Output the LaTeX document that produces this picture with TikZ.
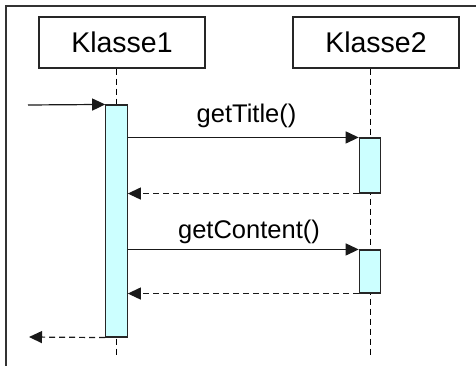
\documentclass[tikz,border=0pt]{standalone}
\usepackage{fontspec}
\setmainfont{Liberation Sans}
\usetikzlibrary{arrows.meta}
\definecolor{actfill}{HTML}{CCFFFF}

\begin{document}
\begin{tikzpicture}[
  x=1pt, y=-1pt,
  cls/.style={draw=black!85, line width=1.1pt, minimum width=166pt, minimum height=51pt,
    inner sep=0pt, font=\fontsize{28.5}{30}\selectfont},
  act/.style={draw=black!85, line width=1.1pt, fill=actfill, minimum width=21.5pt, inner sep=0pt},
  life/.style={line width=1pt, black, dash pattern=on 6pt off 4pt},
  call/.style={-{Triangle[length=13pt,width=12pt]}, line width=1.2pt, black!90},
  ret/.style={call, dash pattern=on 6pt off 4pt},
  lbl/.style={anchor=base, inner sep=0pt, font=\fontsize{25.5}{27}\selectfont}]

\useasboundingbox (0,0) rectangle (476,366);

% ---- frame, cut by the page on the right and below -------------------
\draw[line width=1.5pt, black!80] (6,366) |- (476,6);

% ---- the two objects and their lifelines -------------------------------
\node[cls] (k1) at (122,42.5) {Klasse1};
\node[cls] (k2) at (376,42.5) {Klasse2};
\coordinate (end1) at (116.5,356);
\coordinate (end2) at (370,356);
\draw[life] (end1 |- k1.south) -- (end1);
\draw[life] (end2 |- k2.south) -- (end2);

% ---- activation bars ----------------------------------------------------
\node[act, minimum height=232pt] (act1) at (116.5,221) {};
\node[act, minimum height=55pt]  (act2) at (370,165.5) {};
\node[act, minimum height=43pt]  (act3) at (370,271.5) {};

% ---- messages -----------------------------------------------------------
\coordinate (src) at (28,105);
\coordinate (snk) at (29,337);
\draw[call] (src) -- (act1.north west);
\draw[call] (act1.east |- act2.north) -- (act2.north west);
\draw[ret]  (act2.south west) -- (act1.east |- act2.south);
\draw[call] (act1.east |- act3.north) -- (act3.north west);
\draw[ret]  (act3.south west) -- (act1.east |- act3.south);
\draw[ret]  (act1.south west) -- (snk);

\node[lbl] (m1) at (246.5,123) {getTitle()};
\node[lbl] (m2) at (249,238) {getContent()};

\end{tikzpicture}
\end{document}
